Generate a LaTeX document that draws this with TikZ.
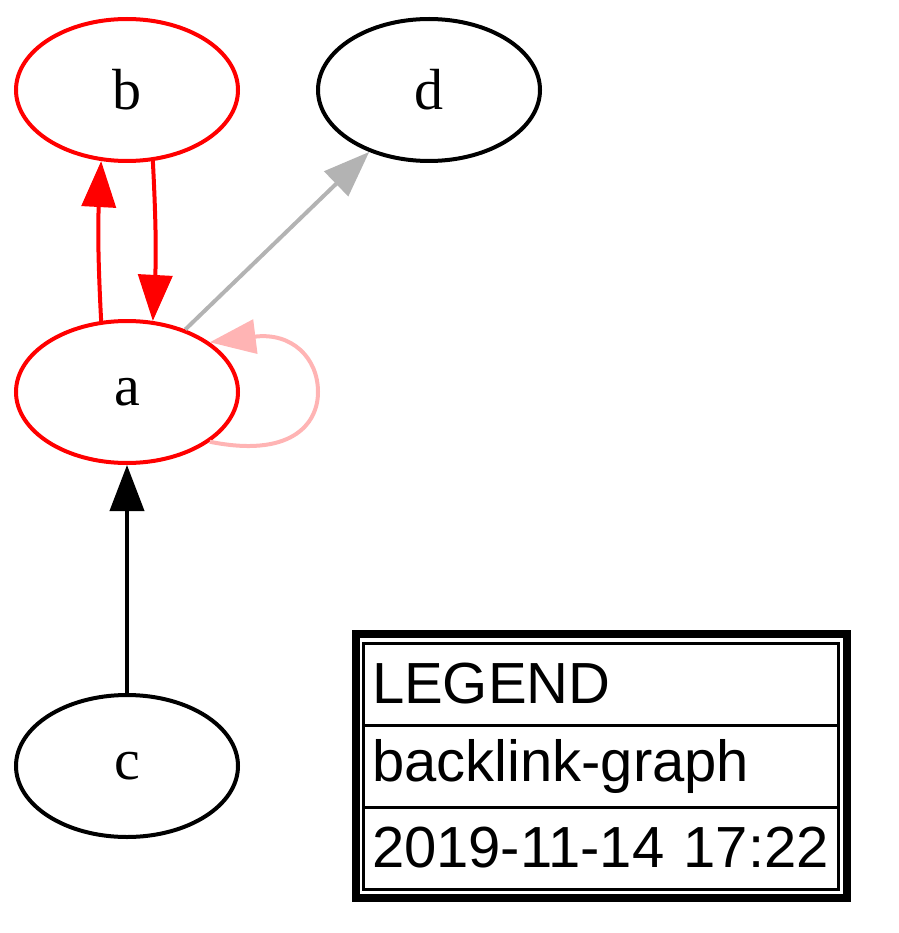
\documentclass[tikz,border=0pt]{standalone}
\usepackage{fontspec}
\setmainfont{Liberation Serif}
\setsansfont{Liberation Sans}
\usetikzlibrary{shapes.geometric,arrows.meta}
\definecolor{edgegrey}{RGB}{179,179,179}
\definecolor{looppink}{RGB}{255,180,180}

\begin{document}
\begin{tikzpicture}[
    x=1pt, y=-1pt,
    font=\fontsize{58}{66}\selectfont,
    vertex/.style={draw, ellipse, line width=4pt, minimum width=222pt, minimum height=142pt, inner sep=0pt},
    edge/.style={line width=4pt, -{Triangle[length=46pt, width=34pt]}},
    cell/.style={draw, line width=3pt, rectangle, minimum height=82pt, text width=457pt, inner xsep=9pt, align=left, font=\sffamily\fontsize{58}{66}\selectfont}
]
\useasboundingbox (0,0) rectangle (898,933);

% Nodes
\node[vertex, red] (b) at (127,90) {\textcolor{black}{b}};
\node[vertex] (d) at (429,90) {d};
\node[vertex, red] (a) at (127,392) {\textcolor{black}{a}};
\node[vertex] (c) at (127,766) {c};

% Legend
\node[cell] (legtitle) at (600.5,684) {LEGEND};
\node[cell] (legname)  at (600.5,766) {backlink-graph};
\node[cell] (legdate)  at (600.5,848) {2019-11-14 17:22};
\draw[line width=8pt] ([shift={(-6,-8)}]legtitle.north west) rectangle ([shift={(7,7)}]legdate.south east);

% Edges
\draw[edge, red] (a.110) to[bend left=3] (b.-110);
\draw[edge, red] (b.-70) to[bend left=3] (a.70);
\draw[edge, edgegrey] (a.47) -- (d.-134);
\draw[edge, looppink] (a.-31) .. controls (290,458) and (318,425) .. (318,392)
    .. controls (318,358) and (292,332) .. (a.31);
\draw[edge] (c) -- (a);

\end{tikzpicture}
\end{document}
